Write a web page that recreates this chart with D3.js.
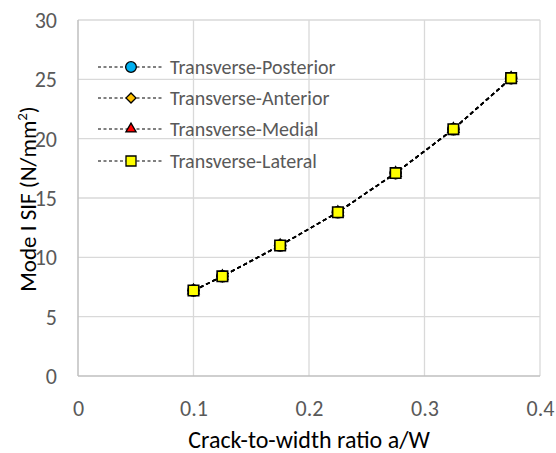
<!DOCTYPE html>
<html><head><meta charset="utf-8">
<script src="https://cdn.jsdelivr.net/npm/d3@7"></script>
<style>body{margin:0;background:#fff}</style>
</head><body>
<svg id="c" width="556" height="453"></svg>
<script>
const ratios = [0.1, 0.125, 0.175, 0.225, 0.275, 0.325, 0.375];
const posterior = [7.2, 8.4, 11.0, 13.8, 17.1, 20.8, 25.1];
const anterior  = [7.2, 8.4, 11.0, 13.8, 17.1, 20.8, 25.1];
const medial    = [7.2, 8.4, 11.0, 13.8, 17.1, 20.8, 25.1];
const lateral   = [7.2, 8.4, 11.0, 13.8, 17.1, 20.8, 25.1];
const seriesNames = ["Transverse-Posterior","Transverse-Anterior","Transverse-Medial","Transverse-Lateral"];
const xTicks = [0, 0.1, 0.2, 0.3, 0.4];
const yTicks = [0, 5, 10, 15, 20, 25, 30];

const series = [
  {name: seriesNames[0], vals: posterior, sym: d3.symbolCircle, fill: "#00b0f0", size: 95, lsize: 90, rot: 0},
  {name: seriesNames[1], vals: anterior, sym: d3.symbolSquare, fill: "#ffc000", size: 55, lsize: 50, rot: 45},
  {name: seriesNames[2], vals: medial, sym: d3.symbolTriangle, fill: "#ff0000", size: 50, lsize: 45, rot: 0},
  {name: seriesNames[3], vals: lateral, sym: d3.symbolSquare, fill: "#ffff00", size: 110, lsize: 100, rot: 0}
];

const svg = d3.select("#c");
const font = "Carlito, Calibri, 'Open Sans', 'Liberation Sans', sans-serif";
const x = d3.scaleLinear().domain([0, 0.4]).range([78, 540]);
const y = d3.scaleLinear().domain([0, 30]).range([376, 20]);

// grid
const g = svg.append("g");
g.selectAll(".gy").data(yTicks.slice(1)).join("line")
  .attr("x1", x(0)).attr("x2", x(0.4)).attr("y1", d=>y(d)).attr("y2", d=>y(d))
  .attr("stroke", "#d9d9d9").attr("stroke-width", 1.3);
g.selectAll(".gx").data(xTicks.slice(1)).join("line")
  .attr("x1", d=>x(d)).attr("x2", d=>x(d)).attr("y1", y(0)).attr("y2", y(30))
  .attr("stroke", "#d9d9d9").attr("stroke-width", 1.3);
// axes
svg.append("line").attr("x1", x(0)).attr("x2", x(0)).attr("y1", y(0)).attr("y2", y(30))
  .attr("stroke", "#bfbfbf").attr("stroke-width", 1.5);
svg.append("line").attr("x1", x(0)).attr("x2", x(0.4)).attr("y1", y(0)).attr("y2", y(0))
  .attr("stroke", "#bfbfbf").attr("stroke-width", 1.5);

// tick labels via axes
const ya = d3.axisLeft(y).tickValues(yTicks).tickSize(0).tickPadding(0).tickFormat(d3.format("d"));
const yg = svg.append("g").attr("transform", `translate(57,0)`).call(ya);
yg.select(".domain").remove();
yg.selectAll("text").attr("font-family", font).attr("font-size", 22).attr("fill", "#595959").attr("dy", "0.34em");

const xa = d3.axisBottom(x).tickValues(xTicks).tickSize(0).tickPadding(0).tickFormat(d => d === 0 ? "0" : d3.format(".1f")(d));
const xg = svg.append("g").attr("transform", `translate(0,0)`).call(xa);
xg.select(".domain").remove();
xg.selectAll("text").attr("font-family", font).attr("font-size", 22).attr("fill", "#595959")
  .attr("y", 416).attr("dy", 0);

// axis titles
svg.append("text").attr("x", 309).attr("y", 448).attr("text-anchor", "middle")
  .attr("font-family", font).attr("font-size", 24).attr("fill", "#000")
  .text("Crack-to-width ratio a/W");
const yt = svg.append("text").attr("transform", "translate(36,199) rotate(-90)").attr("text-anchor", "middle")
  .attr("font-family", font).attr("font-size", 23).attr("fill", "#000");
yt.append("tspan").text("Mode I SIF (N/mm");
yt.append("tspan").attr("baseline-shift", "super").attr("font-size", 15).text("2");
yt.append("tspan").text(")");

// series
const line = d3.line().x(d=>x(d[0])).y(d=>y(d[1]));
series.forEach(s => {
  const pts = ratios.map((r,i)=>[r, s.vals[i]]);
  svg.append("path").attr("d", line(pts)).attr("fill", "none")
    .attr("stroke", "#000").attr("stroke-width", 1.6).attr("stroke-dasharray", "4,3");
});
series.forEach(s => {
  const pts = ratios.map((r,i)=>[r, s.vals[i]]);
  svg.append("g").selectAll("path").data(pts).join("path")
    .attr("transform", d=>`translate(${x(d[0])},${y(d[1])}) rotate(${s.rot})`)
    .attr("d", d3.symbol().type(s.sym).size(s.size)())
    .attr("fill", s.fill).attr("stroke", "#000").attr("stroke-width", 1.6);
});

// legend
const legY = [67, 98, 129, 161];
series.forEach((s, i) => {
  const ly = legY[i];
  svg.append("line").attr("x1", 98).attr("x2", 164).attr("y1", ly).attr("y2", ly)
    .attr("stroke", "#000").attr("stroke-width", 1).attr("stroke-dasharray", "3,2.5");
  svg.append("path").attr("transform", `translate(131,${ly}) rotate(${s.rot})`)
    .attr("d", d3.symbol().type(s.sym).size(s.lsize)())
    .attr("fill", s.fill).attr("stroke", "#000").attr("stroke-width", 1.3);
  svg.append("text").attr("x", 170).attr("y", ly + 6.5).attr("font-family", font).attr("font-size", 20)
    .attr("fill", "#595959").text(s.name);
});
</script>
</body></html>
